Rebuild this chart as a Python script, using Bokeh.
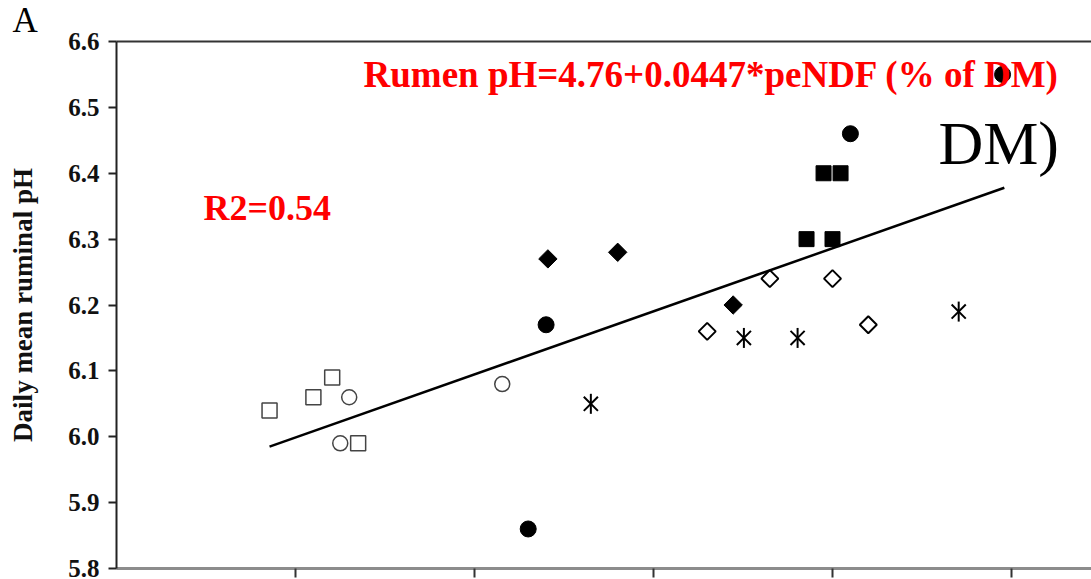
import math
from bokeh.plotting import figure
from bokeh.models import Range1d, FixedTicker, PrintfTickFormatter, LinearAxis, Label
from bokeh.embed import file_html
from bokeh.resources import INLINE

# ---- data (x = peNDF, y = daily mean ruminal pH) ----
open_sq_x = [23.71, 24.20, 24.41, 24.70]
open_sq_y = [6.04, 6.06, 6.09, 5.99]

open_ci_x = [24.50, 24.60, 26.31]
open_ci_y = [5.99, 6.06, 6.08]

fill_ci_x = [26.60, 26.80, 30.20, 31.90]
fill_ci_y = [5.86, 6.17, 6.46, 6.55]

fill_di_x = [26.82, 27.60, 28.89]
fill_di_y = [6.27, 6.28, 6.20]

open_di_x = [28.60, 29.30, 30.00, 30.40]
open_di_y = [6.16, 6.24, 6.24, 6.17]

ast_x = [27.30, 29.01, 29.61, 31.41]
ast_y = [6.05, 6.15, 6.15, 6.19]

fill_sq_x = [29.71, 30.00, 29.90, 30.09]
fill_sq_y = [6.30, 6.30, 6.40, 6.40]

fit_x = [23.71, 31.92]
fit_y = [5.985, 6.378]

y_ticks = [5.8, 5.9, 6.0, 6.1, 6.2, 6.3, 6.4, 6.5, 6.6]
x_ticks = [24, 26, 28, 30, 32]

SERIF = "Liberation Serif"

p = figure(width=1091, height=579, output_backend="svg", toolbar_location=None,
           x_range=Range1d(22, 22 + 975 / 89.5), y_range=Range1d(5.8, 6.6),
           min_border_left=116, min_border_top=40, min_border_right=0, min_border_bottom=11,
           title="A")
p.grid.visible = False
p.outline_line_color = None
p.background_fill_color = "white"

# panel letter as the title
p.title.text_font = SERIF
p.title.text_font_style = "normal"
p.title.text_font_size = "35px"
p.title.text_color = "black"
p.title.align = "left"
p.title.offset = -104
p.title.standoff = 0
p.title.vertical_align = "top"

# y axis
ya = p.yaxis[0]
ya.ticker = FixedTicker(ticks=y_ticks)
ya.formatter = PrintfTickFormatter(format="%.1f")
ya.axis_line_color = "#222222"
ya.axis_line_width = 2
ya.major_tick_line_color = "#222222"
ya.major_tick_line_width = 2
ya.major_tick_out = 8
ya.major_tick_in = 0
ya.minor_tick_line_color = None
ya.major_label_standoff = 9
ya.major_label_text_font = SERIF
ya.major_label_text_font_style = "bold"
ya.major_label_text_font_size = "25px"
ya.major_label_text_color = "#111111"
ya.axis_label = "Daily mean ruminal pH"
ya.axis_label_text_font = SERIF
ya.axis_label_text_font_style = "bold"
ya.axis_label_text_font_size = "27px"
ya.axis_label_text_color = "#111111"
ya.axis_label_standoff = 27

# x axis (its labels are cut off in the reference)
xa = p.xaxis[0]
xa.ticker = FixedTicker(ticks=x_ticks)
xa.axis_line_color = "#8c8c8c"
xa.axis_line_width = 3
xa.major_tick_line_color = "#333333"
xa.major_tick_line_width = 2
xa.major_tick_out = 9
xa.major_tick_in = 0
xa.minor_tick_line_color = None
xa.major_label_text_color = None
xa.major_label_text_font_size = "0px"
xa.major_label_standoff = 0

# top line
top = LinearAxis(ticker=FixedTicker(ticks=[]), axis_line_color="#333333", axis_line_width=2,
                 major_tick_line_color=None, minor_tick_line_color=None,
                 major_tick_out=0, major_tick_in=0,
                 major_label_text_color=None, major_label_text_font_size="0px",
                 major_label_standoff=0)
p.add_layout(top, "above")

# regression line
p.line(fit_x, fit_y, line_color="black", line_width=2.5)

# markers
p.scatter(open_sq_x, open_sq_y, marker="square", size=15, fill_color=None,
          line_color="#444444", line_width=1.5)
p.scatter(open_ci_x, open_ci_y, marker="circle", size=15, fill_color=None,
          line_color="#444444", line_width=1.5)
p.scatter(fill_ci_x, fill_ci_y, marker="circle", size=16, fill_color="black",
          line_color="black")
p.scatter(fill_di_x, fill_di_y, marker="square", angle=math.pi / 4, size=13,
          fill_color="black", line_color="black")
p.scatter(open_di_x, open_di_y, marker="square", angle=math.pi / 4, size=12,
          fill_color=None, line_color="black", line_width=2)
p.scatter(ast_x, ast_y, marker="x", size=20, line_color="black", line_width=2)
p.scatter(ast_x, ast_y, marker="dash", angle=math.pi / 2, size=20,
          line_color="black", line_width=2)
p.scatter(fill_sq_x, fill_sq_y, marker="square", size=15, fill_color="black",
          line_color="black")

# annotations
p.add_layout(Label(x=24.76, y=6.550, text="Rumen pH=4.76+0.0447*peNDF (% of DM)",
                   text_font=SERIF, text_font_style="bold", text_font_size="37px",
                   text_color="red", text_baseline="alphabetic", text_align="left"))
p.add_layout(Label(x=22.972, y=6.3466, text="R2=0.54",
                   text_font=SERIF, text_font_style="bold", text_font_size="36px",
                   text_color="red", text_baseline="alphabetic", text_align="left"))
p.add_layout(Label(x=31.184, y=6.4452, text="DM)",
                   text_font=SERIF, text_font_size="62px",
                   text_color="black", text_baseline="alphabetic", text_align="left"))

open("out.html", "w").write(file_html(p, INLINE))
